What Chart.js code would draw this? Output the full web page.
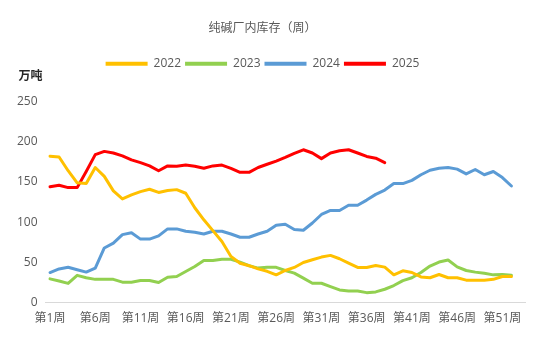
<!DOCTYPE html>
<html>
<head>
<meta charset="utf-8">
<script src="https://cdn.jsdelivr.net/npm/chart.js@4/dist/chart.umd.min.js"></script>
<style>
html,body{margin:0;padding:0;background:#ffffff;}
canvas{display:block;}
</style>
</head>
<body>
<canvas id="c" width="550" height="344"></canvas>
<script>
const weeks = ['第1周','第2周','第3周','第4周','第5周','第6周','第7周','第8周','第9周','第10周',
  '第11周','第12周','第13周','第14周','第15周','第16周','第17周','第18周','第19周','第20周',
  '第21周','第22周','第23周','第24周','第25周','第26周','第27周','第28周','第29周','第30周',
  '第31周','第32周','第33周','第34周','第35周','第36周','第37周','第38周','第39周','第40周',
  '第41周','第42周','第43周','第44周','第45周','第46周','第47周','第48周','第49周','第50周',
  '第51周','第52周','第53周'];

const y2022 = [182,181,164,149,148,168,157,139,129,134,
  138,141,137,139.5,140.5,136,118,103,89.6,76,
  57.5,49,46,42,39,34.6,40,43.8,50,53.4,
  56.7,58.8,54.6,49.2,43.8,43.8,46.3,44.2,34.6,39.6,
  37.5,32,31,35,31,31,28,28,28,29,32.5,32.5];

const y2023 = [29.6,27,24,34,31,29,29,29,25.5,25.5,
  27.5,27.5,25,31.7,32.5,38.8,45,52.5,52.5,54,
  54,50.5,46,43,44,44,40,36.7,30.5,24.2,
  24.2,20,15.9,14.6,14.6,12.5,13.4,16.7,21.3,27.5,
  31,37.5,45.5,50.5,53,44.5,40,38,36.7,34.6,35,34];

const y2024 = [37.5,42,44,41,38,43,68,74,84.6,87,
  79,79,83,91.7,91.7,88.8,87.5,85.4,88.8,88.8,
  85.4,81.3,81.3,85.4,88.8,96.3,97.5,90.9,90,99,
  109.6,114.6,114.6,121,121,127.5,134.6,140,148,148,
  152,159,164.6,167,168,166,160,165.5,159,163,155.5,145];

const y2025 = [144,146,143,143,163,184,188,186,182.5,177.5,
  174,170,164,170,169.5,171,169.5,167,170,171,
  167,162,162,168,172,176,180.5,185.5,190,186,
  179,186,188.8,190,186,181.7,179.6,174];

const seriesNames = ['2022','2023','2024','2025'];
const seriesColors = ['#FFC000','#92D050','#5B9BD5','#FF0000'];
const yTicks = [0,50,100,150,200,250];

const FONT = "'Open Sans', 'Noto Sans CJK SC', sans-serif";
const TXT = '#595959';

const unitLabel = {
  id: 'unitLabel',
  afterDraw(chart) {
    const ctx = chart.ctx;
    const a = chart.chartArea;
    ctx.save();
    ctx.font = "bold 12px 'Noto Sans CJK SC', sans-serif";
    ctx.fillStyle = '#262626';
    ctx.textAlign = 'center';
    ctx.textBaseline = 'middle';
    ctx.fillText('万吨', a.left - 15, a.top - 26.5);
    ctx.restore();
  }
};

const allData = [y2022, y2023, y2024, y2025];

new Chart(document.getElementById('c'), {
  type: 'line',
  data: {
    labels: weeks,
    datasets: seriesNames.map((n, i) => ({
      label: n,
      data: allData[i],
      borderColor: seriesColors[i],
      backgroundColor: seriesColors[i],
      borderWidth: 3,
      pointRadius: 0,
      tension: 0,
      fill: false,
      borderJoinStyle: 'round',
      borderCapStyle: 'round'
    }))
  },
  options: {
    responsive: false,
    animation: false,
    layout: { padding: { left: 0, right: 25, top: 0, bottom: 0 } },
    plugins: {
      title: {
        display: true,
        text: '纯碱厂内库存（周）',
        color: TXT,
        font: { family: FONT, size: 12, weight: 'normal' },
        padding: { top: 21, bottom: 18.4 }
      },
      subtitle: {
        display: true,
        text: ' ',
        weight: 500,
        font: { family: FONT, size: 12 },
        padding: { top: 0, bottom: 7.3 }
      },
      legend: {
        labels: {
          boxWidth: 42,
          boxHeight: 4,
          padding: 4,
          color: TXT,
          font: { family: FONT, size: 12 },
          generateLabels(chart) {
            return Chart.defaults.plugins.legend.labels.generateLabels(chart).map(l => {
              l.lineWidth = 0;
              l.fillStyle = seriesColors[l.datasetIndex];
              return l;
            });
          }
        }
      },
      tooltip: { enabled: false }
    },
    scales: {
      x: {
        offset: true,
        grid: { display: false, drawTicks: false },
        border: { display: true, color: '#D9D9D9', width: 1 },
        ticks: {
          autoSkip: false,
          maxRotation: 0,
          minRotation: 0,
          padding: 9,
          color: TXT,
          font: { family: FONT, size: 12 },
          callback: (v, i) => (i % 5 === 0 ? weeks[i] : null)
        },
        afterFit: s => { s.height = 41.3; }
      },
      y: {
        min: yTicks[0],
        max: yTicks[yTicks.length - 1],
        grid: { display: false, drawTicks: false },
        border: { display: false },
        ticks: {
          stepSize: 50,
          padding: 8,
          color: TXT,
          font: { family: FONT, size: 12 }
        },
        afterFit: s => { s.width = 45.5; }
      }
    }
  },
  plugins: [unitLabel]
});
</script>
</body>
</html>
